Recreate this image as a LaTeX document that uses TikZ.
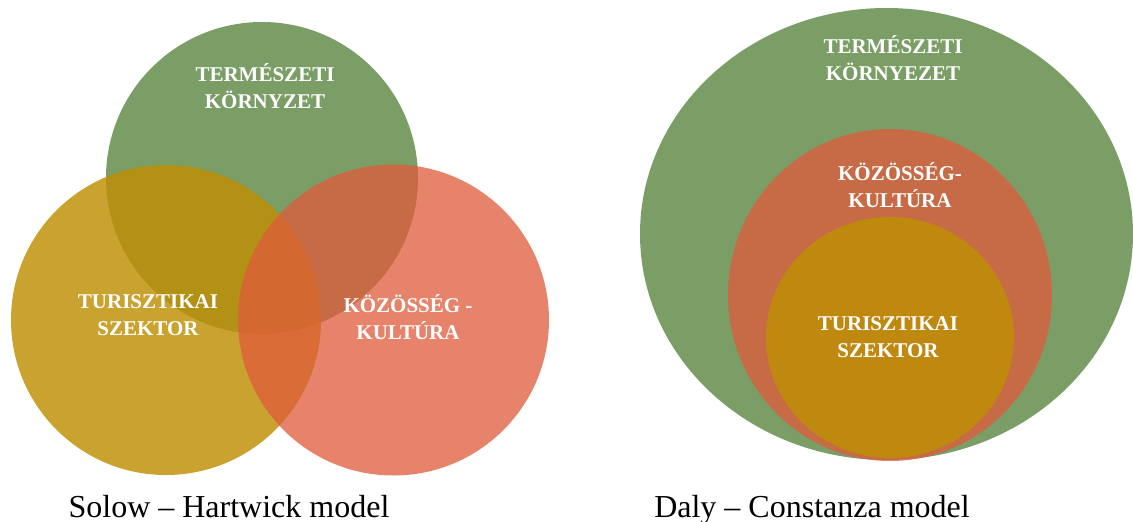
\documentclass[tikz,border=0pt]{standalone}
\usepackage{fontspec}
\setmainfont{Liberation Serif}
\definecolor{cgreen}{RGB}{122,158,101}
\definecolor{cred}{RGB}{222,92,59}
\definecolor{cyellow}{RGB}{190,143,5}
\tikzset{
  lbl/.style={text=white, font=\bfseries\fontsize{21}{27}\selectfont, align=center, inner sep=0pt},
  captext/.style={text=black, font=\fontsize{32}{36}\selectfont, inner sep=0pt, anchor=base},
  gfill/.style={fill=cgreen},
  rfill/.style={fill=cred, fill opacity=0.76},
  yfill/.style={fill=cyellow, fill opacity=0.83}
}
\begin{document}
\begin{tikzpicture}[x=1pt,y=-1pt]
\useasboundingbox (0,0) rectangle (1133,522);
% Left: Solow - Hartwick
\fill[gfill] (262,178) circle[radius=156];
\fill[yfill] (166,320) circle[radius=155];
\fill[rfill] (393.5,320) circle[radius=155.5];
\node[lbl] (lg) at (265,86) {TERMÉSZETI\\KÖRNYZET};
\node[lbl] (ly) at (148,315) {TURISZTIKAI\\SZEKTOR};
\node[lbl] (lr) at (408,317) {KÖZÖSSÉG -\\KULTÚRA};
\node[captext] (lc) at (229,517) {Solow – Hartwick model};
% Right: Daly - Constanza
\fill[gfill] (886.5,234) ellipse[x radius=246.5, y radius=226];
\fill[rfill] (890,295) ellipse[x radius=162, y radius=166];
\fill[yfill] (890,337.5) ellipse[x radius=124, y radius=120.5];
\node[lbl] (rg) at (893,58) {TERMÉSZETI\\KÖRNYEZET};
\node[lbl] (rr) at (900,185) {KÖZÖSSÉG-\\KULTÚRA};
\node[lbl] (ry) at (888,337) {TURISZTIKAI\\SZEKTOR};
\node[captext] (rc) at (812,517) {Daly – Constanza model};
\end{tikzpicture}
\end{document}
